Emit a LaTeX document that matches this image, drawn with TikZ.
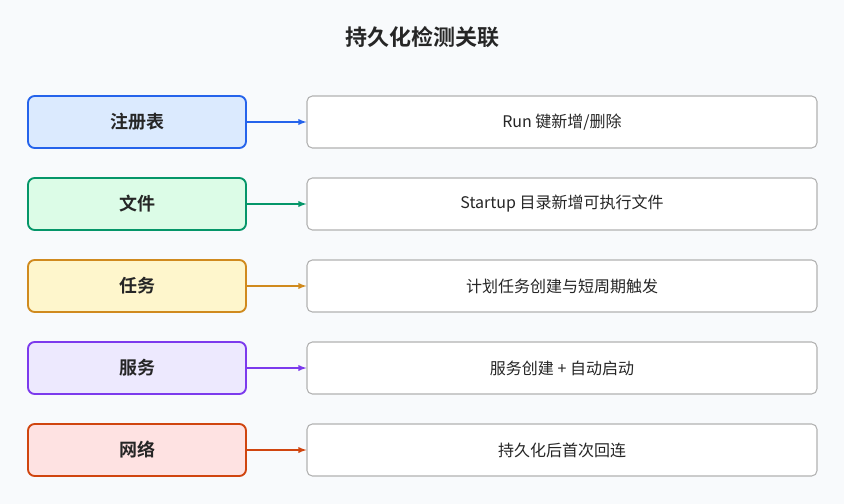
\documentclass[tikz,border=0pt]{standalone}
\usepackage{fontspec}
\setmainfont{Noto Sans CJK SC}
\newfontfamily\cjkb{Noto Sans CJK SC Bold}
\begin{document}
\begin{tikzpicture}[x=0.75pt,y=-0.75pt,
 lbox/.style={line width=1.4pt,rounded corners=5pt,minimum width=218*0.75pt,minimum height=52*0.75pt,font=\cjkb\fontsize{13.5}{16}\selectfont,text=black!85},
 rbox/.style={draw=gray!60,line width=0.8pt,fill=white,rounded corners=4pt,minimum width=510*0.75pt,minimum height=52*0.75pt,font=\fontsize{12}{14}\selectfont,text=black!85},
 arr/.style={-latex,line width=1.1pt}]
\fill[fill={rgb,255:red,248;green,250;blue,252}] (0,0) rectangle (844,504);
\useasboundingbox (0,0) rectangle (844,504);
\definecolor{cb}{HTML}{2563EB}\definecolor{fb}{HTML}{DBEAFE}
\definecolor{cg}{HTML}{059669}\definecolor{fg}{HTML}{DCFCE7}
\definecolor{cy}{HTML}{D08A1E}\definecolor{fy}{HTML}{FEF6CC}
\definecolor{cp}{HTML}{7C3AED}\definecolor{fp}{HTML}{EDE9FE}
\definecolor{cr}{HTML}{D0450F}\definecolor{fr}{HTML}{FEE2E2}
\node[font=\cjkb\fontsize{16.5}{19}\selectfont,text=black!85] (t) at (422,37) {持久化检测关联};
\foreach \i/\c/\f/\l/\r in {0/cb/fb/注册表/{Run 键新增/删除},1/cg/fg/文件/Startup 目录新增可执行文件,2/cy/fy/任务/计划任务创建与短周期触发,3/cp/fp/服务/服务创建 + 自动启动,4/cr/fr/网络/持久化后首次回连}{
 \node[lbox,draw=\c,fill=\f] (l\i) at (137,122+82*\i) {\l};
 \node[rbox] (r\i) at (562,122+82*\i) {\r};
 \draw[arr,\c] (l\i) -- (r\i);
}
\end{tikzpicture}
\end{document}
